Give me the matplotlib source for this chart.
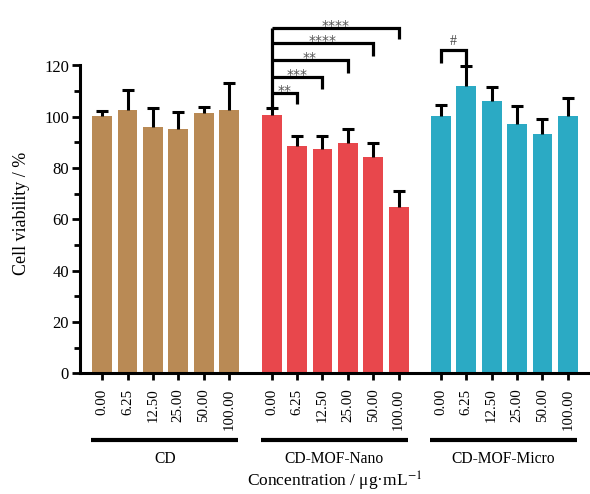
import matplotlib
matplotlib.use("Agg")
import matplotlib.pyplot as plt
import matplotlib.transforms as mtransforms
import numpy as np

plt.rcParams['font.family'] = ['Liberation Serif', 'DejaVu Serif']
plt.rcParams['mathtext.fontset'] = 'stix'

concentrations = ["0.00", "6.25", "12.50", "25.00", "50.00", "100.00"]
groups = ["CD", "CD-MOF-Nano", "CD-MOF-Micro"]
cd_mean = [100.5, 102.6, 96.1, 95.3, 101.3, 102.8]
cd_err = [1.7, 8.0, 7.4, 6.5, 2.4, 10.4]
nano_mean = [100.6, 88.6, 87.3, 89.6, 84.4, 65.0]
nano_err = [2.9, 4.1, 5.1, 5.7, 5.2, 6.2]
micro_mean = [100.5, 112.2, 106.1, 97.3, 93.1, 100.5]
micro_err = [4.2, 7.5, 5.6, 6.8, 6.1, 6.7]
colors = ["#B98A55", "#E8474C", "#2BAAC4"]
# significance brackets (bar b vs bar 0, label)
nano_sig = [(1, "**"), (2, "***"), (3, "**"), (4, "****"), (5, "****")]
micro_sig = [(0, 1, "#")]

means = [cd_mean, nano_mean, micro_mean]
errs = [cd_err, nano_err, micro_err]
offsets = [0, 6.67, 13.33]

fig = plt.figure(figsize=(5.9, 4.94), dpi=100)
ax = fig.add_axes([80/590, (494-373.3)/494, 510/590, 307.8/494])

xs_all = []
labels_all = []
for g in range(3):
    xs = np.arange(6) + offsets[g]
    m = np.array(means[g])
    e = np.array(errs[g])
    ax.bar(xs, m, width=0.78, color=colors[g], zorder=2)
    ax.vlines(xs, m, m + e, color='black', lw=2.2, zorder=3)
    ax.plot(xs, m + e, ls='none', marker='_', markersize=8, mew=2.2, color='black', zorder=3)
    xs_all += list(xs)
    labels_all += concentrations

ax.set_xlim(-0.87, 19.2)
ax.set_ylim(0, 120)
ax.set_yticks(np.arange(0, 121, 20))
ax.set_yticks(np.arange(10, 120, 20), minor=True)
ax.set_xticks(xs_all)
ax.set_xticklabels(labels_all, rotation=90, fontsize=10.7)
ax.tick_params(axis='y', which='major', length=6, width=2, labelsize=12, pad=2)
ax.tick_params(axis='y', which='minor', length=4, width=2)
ax.tick_params(axis='x', length=5, width=2, pad=6)
for s in ['top', 'right']:
    ax.spines[s].set_visible(False)
for s in ['left', 'bottom']:
    ax.spines[s].set_linewidth(2.2)

ax.set_ylabel("Cell viability / %", fontsize=13)
ax.yaxis.set_label_coords(-0.098, 0.52)

trans = mtransforms.blended_transform_factory(ax.transData, ax.transAxes)
for g in range(3):
    x0 = offsets[g]
    ax.plot([x0 - 0.42, x0 + 5.35], [-0.2167, -0.2167], color='black', lw=3,
            transform=trans, clip_on=False, solid_capstyle='butt')
    ax.text(x0 + 2.47, -0.28, groups[g], transform=trans, ha='center', va='center', fontsize=11.2)
ax.text(9.15, -0.352, "Concentration / μg·mL$^{-1}$", transform=trans, ha='center',
        va='center', fontsize=12.5)

# nano brackets
levels = [109.4, 115.4, 122.2, 128.7, 134.5]
rlegs = [105.0, 110.7, 117.2, 123.7, 130.2]
xa = offsets[1]
lw = 2.3
ax.plot([xa, xa], [103.6, levels[-1]], color='black', lw=lw, clip_on=False, solid_capstyle='butt')
for (b, lab), lev, rl in zip(nano_sig, levels, rlegs):
    xb = offsets[1] + b
    ax.plot([xa, xb, xb], [lev, lev, rl], color='black', lw=lw, clip_on=False,
            solid_capstyle='butt', solid_joinstyle='miter')
    ax.text((xa + xb) / 2, lev - 0.8, lab, ha='center', va='baseline', fontsize=10,
            color='#555555', clip_on=False, family='DejaVu Sans')

for a, b, lab in micro_sig:
    x1 = offsets[2] + a
    x2 = offsets[2] + b
    ax.plot([x1, x1, x2, x2], [121.1, 126.0, 126.0, 120.2], color='black', lw=lw,
            clip_on=False, solid_capstyle='butt', solid_joinstyle='miter')
    ax.text((x1 + x2) / 2, 127.0, lab, ha='center', va='bottom', fontsize=10,
            color='#444444', clip_on=False)

fig.savefig("out.png", dpi=100)
